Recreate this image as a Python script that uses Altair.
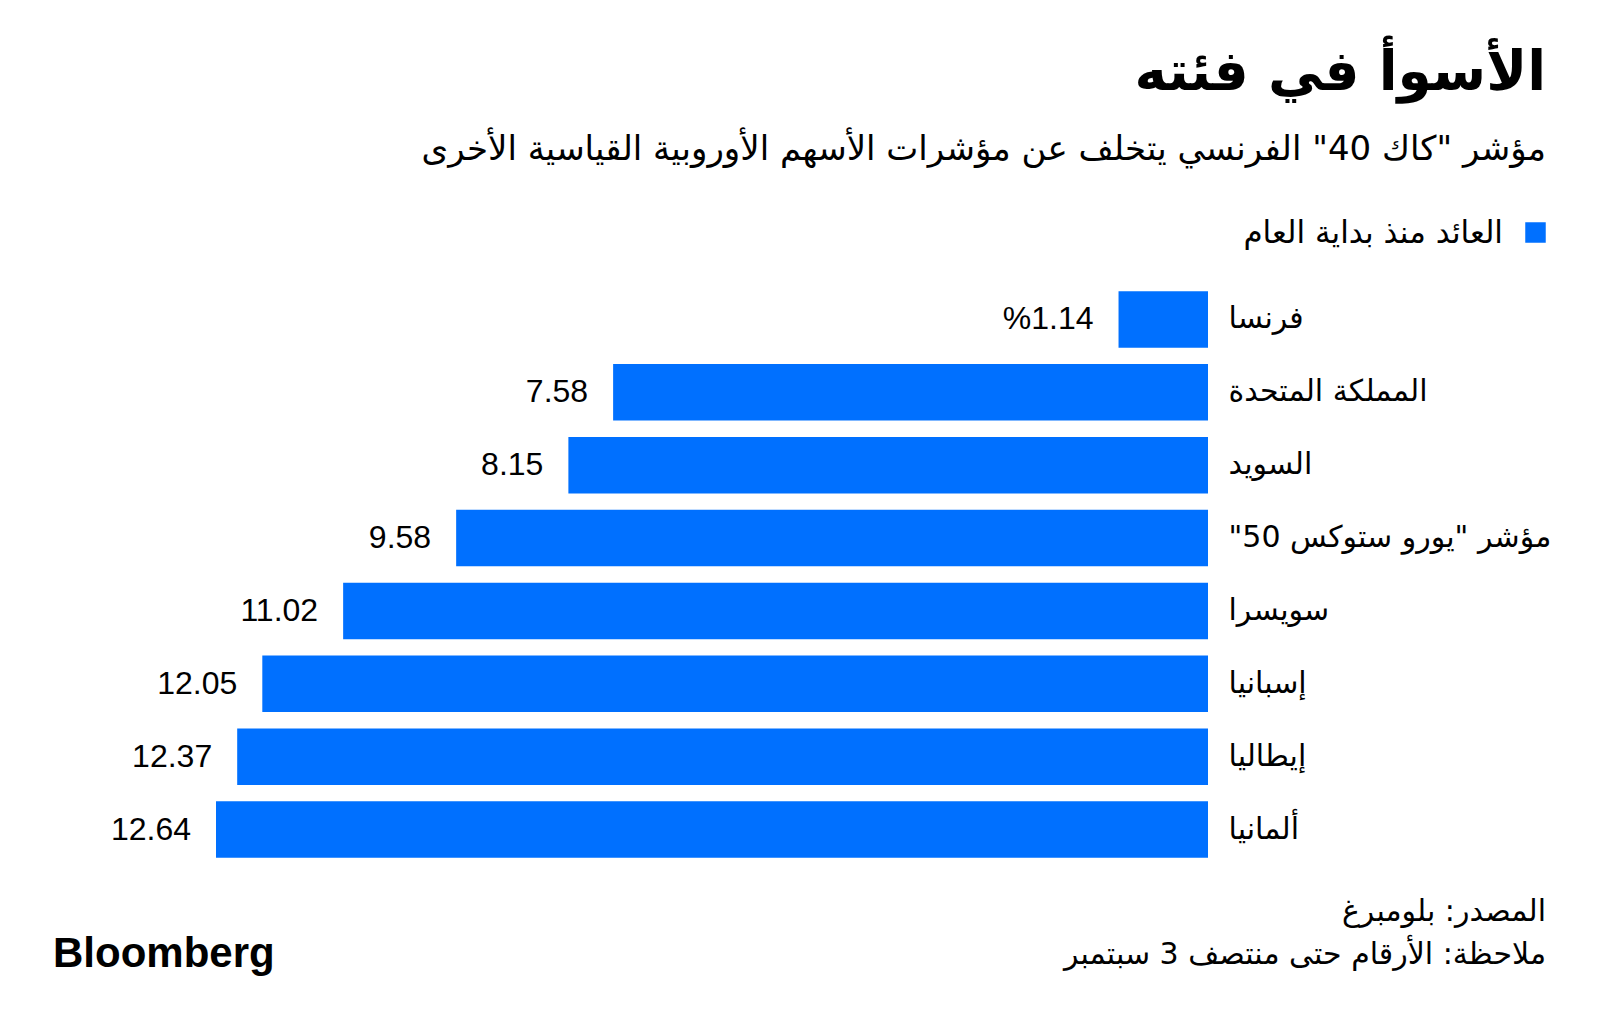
import altair as alt
import pandas as pd

# ---- data ----
countries = ["فرنسا", "المملكة المتحدة", "السويد", 'مؤشر "يورو ستوكس 50"',
             "سويسرا", "إسبانيا", "إيطاليا", "ألمانيا"]
returns = [1.14, 7.58, 8.15, 9.58, 11.02, 12.05, 12.37, 12.64]

title_text = "الأسوأ في فئته"
subtitle_text = 'مؤشر "كاك 40" الفرنسي يتخلف عن مؤشرات الأسهم الأوروبية القياسية الأخرى'
legend_text = "العائد منذ بداية العام"
source_text = "المصدر: بلومبرغ"
note_text = "ملاحظة: الأرقام حتى منتصف 3 سبتمبر"
brand_text = "Bloomberg"

RLM = "\u200f"


def rtl(s):
    return RLM + s + RLM


df = pd.DataFrame({"country": [rtl(c) for c in countries], "value": returns})
df["label"] = [("%" if i == 0 else "") + f"{v:.2f}" for i, v in enumerate(returns)]

W, H = 992, 583
LEFT, TOP = 216, 283
RIGHT_EDGE = 1546
BLUE = "#0070FF"
AR_FONT = "DejaVu Sans"

x = alt.X("value:Q", scale=alt.Scale(domain=[0, 12.64], reverse=True, nice=False), axis=None)
y = alt.Y(
    "country:N", sort=None,
    scale=alt.Scale(paddingInner=0.224, paddingOuter=0.112),
    axis=alt.Axis(orient="right", title=None, ticks=False, domain=False, grid=False,
                  labelPadding=20, labelAlign="left",
                  labelFont=AR_FONT, labelFontSize=30, labelColor="#000000", labelLimit=0),
)

base = alt.Chart(df)
bars = base.mark_bar(color=BLUE).encode(x=x, y=y)
values = base.mark_text(align="right", baseline="middle", dx=-25, font="Liberation Sans",
                        fontSize=32, color="#000000").encode(x=x, y=y, text="label:N")


def txt(s, xpos, ypos, size, align="right", weight="normal", font=AR_FONT):
    return alt.Chart(pd.DataFrame({"t": [s]})).mark_text(
        align=align, baseline="alphabetic", font=font, fontSize=size,
        fontWeight=weight, color="#000000"
    ).encode(text="t:N", x=alt.value(xpos), y=alt.value(ypos))


rx = RIGHT_EDGE - LEFT
title = txt(rtl(title_text), rx, 90 - TOP, 55, weight="bold")
subtitle = txt(rtl(subtitle_text), rx, 160 - TOP, 34)
leg_sq = alt.Chart(pd.DataFrame({"t": [legend_text]})).mark_square(
    size=420, color=BLUE, opacity=1).encode(x=alt.value(rx - 10.5), y=alt.value(232.5 - TOP))
leg_txt = txt(rtl(legend_text), 1503 - LEFT, 243 - TOP, 31)
source = txt(rtl(source_text), rx, 921 - TOP, 30)
note = txt(rtl(note_text), rx, 964 - TOP, 30)
brand = txt(brand_text, 53 - LEFT, 967 - TOP, 42, align="left", weight="bold", font="Liberation Sans")

chart = alt.layer(bars, values, title, subtitle, leg_sq, leg_txt, source, note, brand).properties(
    width=W, height=H,
    autosize=alt.AutoSizeParams(type="none"),
    padding={"left": LEFT, "top": TOP, "right": 1600 - LEFT - W, "bottom": 1031 - TOP - H},
    background="white",
).configure_view(stroke=None)

chart.save("out.html", embed_options={"renderer": "svg", "actions": False})
